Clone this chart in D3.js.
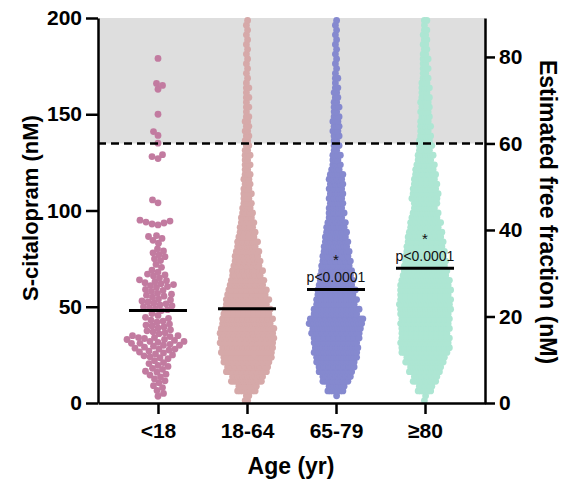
<!DOCTYPE html>
<html>
<head>
<meta charset="utf-8">
<script src="https://cdn.jsdelivr.net/npm/d3@7"></script>
<style>
  body { margin: 0; background: #fff; }
  text { font-family: Arial, "Liberation Sans", sans-serif; }
</style>
</head>
<body>
<svg></svg>
<script>
// age groups and colours
var groups = ['<18', '18-64', '65-79', '\u226580'];
var colors = ['#c27ba0', '#d6a9a9', '#8589cf', '#ade6d3'];
var medians = [48, 49, 59, 70];
var pLabels = [null, null, 'p<0.0001', 'p<0.0001'];

// <18: individual concentrations (nM)
var under18 = [3.5, 5, 6.5, 8, 9, 10.5, 11.5, 12.5,
  13.5, 14.5, 15, 16, 16.5, 17.5, 18, 19, 19.5, 20.5, 21, 22, 23, 23.5,
  24, 24.5, 25, 25.5, 26, 26.5, 27, 27.5, 28, 28, 28.5, 29, 29.5, 30, 30, 30.5, 31, 31, 31.5,
  32, 32, 32.5, 33, 33, 33.5, 34, 34, 34.5, 35, 35,
  36, 36.5, 37, 37.5, 38, 39, 39.5, 40, 40.5, 41, 42, 42.5, 43, 44, 44.5, 45.5, 46.5,
  48, 48.5, 49, 49.5, 50, 50.5, 51, 51.5, 52, 52.5, 53, 53.5, 54, 55, 55.5, 56, 56.5, 57, 58, 58.5, 59,
  60, 60.5, 61, 61.5, 62, 62.5, 63, 63.5, 64,
  65, 66, 66.5, 67, 68, 69, 70.5, 72,
  74, 75, 76, 77, 78, 79, 80,
  83, 84.5, 85.5, 86.5, 87,
  92.5, 93, 93.5, 94, 94.5, 95,
  104, 105.5, 127, 128, 129, 135, 139, 141, 150, 163, 165, 166, 179];

// other groups: number of dots per 5 nM bin, 0-5 ... 195-200
var binSize = 5;
var counts1864 = [4, 16, 26, 34, 39, 42, 44, 44, 41, 38, 35, 32, 28, 25, 22, 20, 17, 14, 12, 10,
  8, 7, 6, 6, 5, 5, 4, 4, 4, 4, 3, 3, 3, 2, 2, 2, 2, 2, 2, 2];
var counts6579 = [1, 14, 23, 29, 33, 36, 37, 40, 44, 37, 33, 31, 28, 26, 24, 22, 20, 18, 16, 13,
  12, 12, 12, 12, 8, 7, 5, 5, 6, 6, 5, 4, 4, 3, 2, 2, 2, 2, 2, 2];
var counts80 = [2, 12, 20, 26, 32, 39, 40, 39, 40, 41, 42, 41, 40, 36, 34, 32, 30, 28, 25, 22,
  19, 22, 20, 18, 16, 13, 11, 10, 9, 8, 8, 8, 7, 6, 5, 5, 4, 4, 4, 3];

var leftTicks = [0, 50, 100, 150, 200];
var rightTicks = [0, 20, 40, 60, 80];
var freeMax = 89;
var freeLimit = 60;

var svg = d3.select('svg').attr('width', 574).attr('height', 480);

var x = d3.scalePoint().domain(groups).range([98, 485]).padding(0.674);
var y = d3.scaleLinear().domain([0, 200]).range([403, 18]);
var y2 = d3.scaleLinear().domain([0, freeMax]).range([403, 18]);
var r = 3.4;

// shaded area above the free fraction limit
svg.append('rect')
  .attr('x', 98).attr('width', 485 - 98)
  .attr('y', y(200)).attr('height', y2(freeLimit) - y(200))
  .attr('fill', '#dedede');

// simple beeswarm for the <18 group
var dodge = function(vals) {
  var pts = vals.slice().sort(d3.ascending).map(function(v) { return {v: v, cy: y(v)}; });
  var placed = [];
  var dd = 2 * r * 0.86;
  pts.forEach(function(p, i) {
    var near = placed.filter(function(q) { return Math.abs(q.cy - p.cy) < dd; });
    var s = i % 2 ? 1 : -1;
    for (var k = 0; k < 300; k++) {
      var off = k === 0 ? 0 : Math.ceil(k / 2) * 0.5 * (k % 2 ? s : -s);
      var ok = near.every(function(q) {
        var dx = q.dx - off, dy = q.cy - p.cy;
        return dx * dx + dy * dy >= dd * dd;
      });
      if (ok) { p.dx = off; break; }
    }
    placed.push(p);
  });
  return pts;
};

// dense groups: each bin laid out as two rows of overlapping dots
var binPoints = function(counts) {
  var pts = [];
  counts.forEach(function(n, i) {
    [Math.floor(n / 2), Math.ceil(n / 2)].forEach(function(m, row) {
      var v = i * binSize + binSize * (row ? 0.75 : 0.25);
      for (var j = 0; j < m; j++) {
        pts.push({v: v, cy: y(v), dx: (j - (m - 1) / 2) * 2.5 + (row ? 0.6 : -0.6)});
      }
    });
  });
  return pts;
};

var groupPts = [dodge(under18), binPoints(counts1864), binPoints(counts6579), binPoints(counts80)];

var gDots = svg.append('g');
groupPts.forEach(function(pts, gi) {
  gDots.append('g')
    .attr('fill', colors[gi])
    .selectAll('circle')
    .data(pts)
    .enter().append('circle')
    .attr('cx', function(d) { return x(groups[gi]) + d.dx; })
    .attr('cy', function(d) { return d.cy; })
    .attr('r', r);
});

// dashed limit line
svg.append('line')
  .attr('x1', 98).attr('x2', 485)
  .attr('y1', y2(freeLimit)).attr('y2', y2(freeLimit))
  .attr('stroke', '#000').attr('stroke-width', 2.5)
  .attr('stroke-dasharray', '8,5');

// medians
svg.append('g').selectAll('line')
  .data(medians)
  .enter().append('line')
  .attr('x1', function(d, i) { return x(groups[i]) - 29; })
  .attr('x2', function(d, i) { return x(groups[i]) + 29; })
  .attr('y1', function(d) { return y(d); })
  .attr('y2', function(d) { return y(d); })
  .attr('stroke', '#000').attr('stroke-width', 3);

// p values
var gP = svg.append('g').attr('text-anchor', 'middle').attr('fill', '#111');
medians.forEach(function(m, i) {
  if (!pLabels[i]) return;
  gP.append('text')
    .attr('x', x(groups[i])).attr('y', y(m) - 7)
    .attr('font-size', 14)
    .text(pLabels[i]);
  gP.append('text')
    .attr('x', x(groups[i])).attr('y', y(m) - 24)
    .attr('font-size', 15)
    .text('*');
});

var styleAxis = function(g) {
  g.attr('font-family', 'Arial, "Liberation Sans", sans-serif')
    .attr('font-size', 21).attr('font-weight', 'bold');
  g.select('.domain').attr('stroke-width', 2.5);
  g.selectAll('.tick line').attr('stroke-width', 2.5);
  g.selectAll('.tick text').attr('fill', '#000');
};

svg.append('g')
  .attr('transform', 'translate(98,0)')
  .call(d3.axisLeft(y).tickValues(leftTicks).tickSize(12).tickSizeOuter(0).tickPadding(4))
  .call(styleAxis);

svg.append('g')
  .attr('transform', 'translate(485,0)')
  .call(d3.axisRight(y2).tickValues(rightTicks).tickSize(10).tickSizeOuter(0).tickPadding(4))
  .call(styleAxis);

svg.append('g')
  .attr('transform', 'translate(0,403)')
  .call(d3.axisBottom(x).tickSize(11).tickSizeOuter(0).tickPadding(9))
  .call(styleAxis);

// axis titles
svg.append('text')
  .attr('transform', 'translate(38,208) rotate(-90)')
  .attr('text-anchor', 'middle')
  .attr('font-size', 22).attr('font-weight', 'bold')
  .text('S-citalopram (nM)');

svg.append('text')
  .attr('transform', 'translate(540,212) rotate(90)')
  .attr('text-anchor', 'middle')
  .attr('font-size', 23).attr('font-weight', 'bold')
  .text('Estimated free fraction (nM)');

svg.append('text')
  .attr('x', 291).attr('y', 474)
  .attr('text-anchor', 'middle')
  .attr('font-size', 23).attr('font-weight', 'bold')
  .text('Age (yr)');
</script>
</body>
</html>
